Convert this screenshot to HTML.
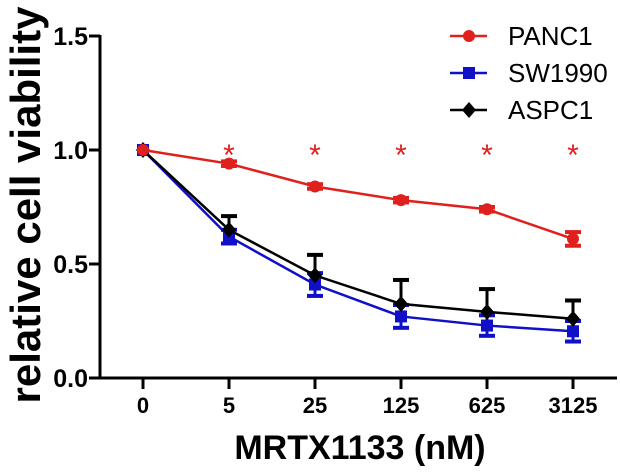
<!DOCTYPE html>
<html><head><style>
body{margin:0;background:#fff}
svg text{font-family:"Liberation Sans",Arial,sans-serif;font-weight:bold}
</style></head><body>
<svg id="chart" width="620" height="468" xmlns="http://www.w3.org/2000/svg">
<g id="axes"></g><g id="marks"></g><g id="legend"></g>
</svg>
<script>
const categories=["0","5","25","125","625","3125"];
const panc1=[1.0,0.94,0.84,0.78,0.74,0.61];
const panc1Err=[0,0.01,0.01,0.01,0.01,0.03];
const sw1990=[1.0,0.62,0.41,0.27,0.23,0.205];
const sw1990Err=[0,0.03,0.05,0.05,0.045,0.045];
const aspc1=[1.0,0.65,0.45,0.325,0.29,0.26];
const aspc1Err=[0,0.06,0.09,0.105,0.1,0.08];
const yTicks=[0,0.5,1.0,1.5];
const yTickLabels=["0.0","0.5","1.0","1.5"];
const sigFlags=[false,true,true,true,true,true];
const NS="http://www.w3.org/2000/svg";
const xs=i=>143+i*86;
const ys=v=>378-v*228;
function mk(tag,attrs,parent,text){const e=document.createElementNS(NS,tag);for(const k in attrs)e.setAttribute(k,attrs[k]);if(text!==undefined)e.textContent=text;parent.appendChild(e);return e;}
const axes=document.getElementById('axes'),marks=document.getElementById('marks'),legend=document.getElementById('legend');
let el=mk('line',{x1:100,y1:35,x2:100,y2:379,stroke:'#000','stroke-width':3},axes);


el=mk('line',{x1:89,y1:378,x2:617,y2:378,stroke:'#000','stroke-width':3},axes);


yTicks.forEach((t,i)=>{
 mk('line',{x1:89,y1:ys(t),x2:100,y2:ys(t),stroke:'#000','stroke-width':3},axes);
 el=mk('text',{x:88,y:ys(t)+9,'font-size':25,'text-anchor':'end'},axes,yTickLabels[i]);
 
 
});
categories.forEach((c,i)=>{
 mk('line',{x1:xs(i),y1:378,x2:xs(i),y2:389,stroke:'#000','stroke-width':3},axes);
 el=mk('text',{x:xs(i),y:413,'font-size':22,'text-anchor':'middle'},axes,c);
 
 
});
el=mk('text',{x:360,y:459,'font-size':34,'text-anchor':'middle'},axes,'MRTX1133 (nM)');


el=mk('text',{x:0,y:0,'font-size':42,'text-anchor':'middle',transform:'translate(40,205) rotate(-90)'},axes,'relative cell viability');


function marker(type,x,y,color,parent){
 if(type==='circle')return mk('circle',{cx:x,cy:y,r:6,fill:color},parent);
 if(type==='square')return mk('rect',{x:x-6,y:y-6,width:12,height:12,fill:color},parent);
 return mk('polygon',{points:`${x},${y-8} ${x+7},${y} ${x},${y+8} ${x-7},${y}`,fill:color},parent);
}
function series(name,vals,errs,color,type,dir){
 const g=mk('g',{},marks);
 
 
 vals.forEach((v,i)=>{if(!errs[i])return;
  const y2=ys(v+dir*errs[i]);
  mk('line',{x1:xs(i),y1:ys(v),x2:xs(i),y2:y2,stroke:color,'stroke-width':3},g);
  mk('line',{x1:xs(i)-8,y1:y2,x2:xs(i)+8,y2:y2,stroke:color,'stroke-width':4},g);
  if(dir===-1){const y3=ys(v+errs[i]);mk('line',{x1:xs(i),y1:ys(v),x2:xs(i),y2:y3,stroke:color,'stroke-width':3},g);mk('line',{x1:xs(i)-8,y1:y3,x2:xs(i)+8,y2:y3,stroke:color,'stroke-width':4},g);}
 });
 mk('polyline',{points:vals.map((v,i)=>xs(i)+','+ys(v)).join(' '),fill:'none',stroke:color,'stroke-width':2.5},g);
 vals.forEach((v,i)=>{const m=marker(type,xs(i),ys(v),color,g);
  
  });
}
series('sw1990',sw1990,sw1990Err,'#1010c8','square',-1);
series('aspc1',aspc1,aspc1Err,'#000','diamond',1);
series('panc1',panc1,panc1Err,'#e0201c','circle',-1);
sigFlags.forEach((f,i)=>{if(!f)return;
 el=mk('text',{x:xs(i),y:165,'font-size':30,style:'font-weight:normal',fill:'#e0201c','text-anchor':'middle'},marks,'*');
 
 
});
[['PANC1','#e0201c','circle'],['SW1990','#1010c8','square'],['ASPC1','#000','diamond']].forEach((d,i)=>{
 const y=36+i*37;
 const g=mk('g',{},legend);
 
 
 mk('line',{x1:450,y1:y,x2:487,y2:y,stroke:d[1],'stroke-width':2.5},g);
 marker(d[2],469,y,d[1],g);
 mk('text',{x:508,y:y+9,'font-size':26,style:'font-weight:normal'},g,d[0]);
});
</script>
</body></html>
